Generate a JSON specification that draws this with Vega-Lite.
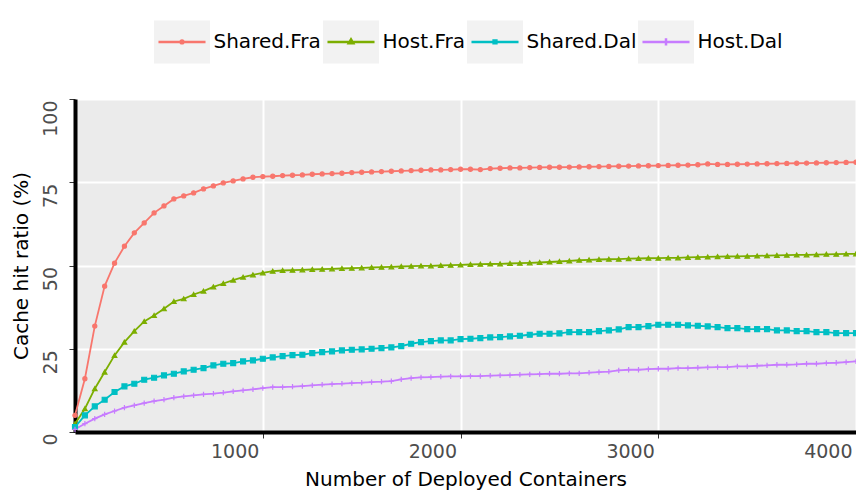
{
  "$schema": "https://vega.github.io/schema/vega-lite/v6.json",
  "width": 781,
  "height": 333,
  "autosize": {"type": "none"},
  "padding": {"left": 75, "top": 99, "right": 0, "bottom": 61},
  "config": {
    "font": "DejaVu Sans",
    "view": {"fill": "#ebebeb", "stroke": null},
    "axis": {
      "domainColor": "black",
      "domainWidth": 4,
      "tickColor": "#333333",
      "tickWidth": 1,
      "tickSize": 6,
      "labelColor": "#4d4d4d",
      "labelFontSize": 19,
      "titleFontSize": 20,
      "titleFontWeight": "normal",
      "titleColor": "black",
      "gridColor": "white",
      "gridWidth": 2
    }
  },
  "data": {"values": [
{"containers":50,"series":"Shared.Fra","ratio":5},{"containers":100,"series":"Shared.Fra","ratio":16},{"containers":150,"series":"Shared.Fra","ratio":31.8},{"containers":200,"series":"Shared.Fra","ratio":43.8},{"containers":250,"series":"Shared.Fra","ratio":50.7},{"containers":300,"series":"Shared.Fra","ratio":55.8},{"containers":350,"series":"Shared.Fra","ratio":59.8},{"containers":400,"series":"Shared.Fra","ratio":62.8},{"containers":450,"series":"Shared.Fra","ratio":65.8},{"containers":500,"series":"Shared.Fra","ratio":67.9},
{"containers":550,"series":"Shared.Fra","ratio":70},{"containers":600,"series":"Shared.Fra","ratio":70.9},{"containers":650,"series":"Shared.Fra","ratio":71.8},{"containers":700,"series":"Shared.Fra","ratio":73},{"containers":750,"series":"Shared.Fra","ratio":73.9},{"containers":800,"series":"Shared.Fra","ratio":74.8},{"containers":850,"series":"Shared.Fra","ratio":75.4},{"containers":900,"series":"Shared.Fra","ratio":76},{"containers":950,"series":"Shared.Fra","ratio":76.5},{"containers":1000,"series":"Shared.Fra","ratio":76.7},
{"containers":1050,"series":"Shared.Fra","ratio":76.8},{"containers":1100,"series":"Shared.Fra","ratio":77},{"containers":1150,"series":"Shared.Fra","ratio":77.1},{"containers":1200,"series":"Shared.Fra","ratio":77.2},{"containers":1250,"series":"Shared.Fra","ratio":77.4},{"containers":1300,"series":"Shared.Fra","ratio":77.5},{"containers":1350,"series":"Shared.Fra","ratio":77.6},{"containers":1400,"series":"Shared.Fra","ratio":77.7},{"containers":1450,"series":"Shared.Fra","ratio":77.9},{"containers":1500,"series":"Shared.Fra","ratio":78},
{"containers":1550,"series":"Shared.Fra","ratio":78.1},{"containers":1600,"series":"Shared.Fra","ratio":78.2},{"containers":1650,"series":"Shared.Fra","ratio":78.3},{"containers":1700,"series":"Shared.Fra","ratio":78.4},{"containers":1750,"series":"Shared.Fra","ratio":78.5},{"containers":1800,"series":"Shared.Fra","ratio":78.6},{"containers":1850,"series":"Shared.Fra","ratio":78.7},{"containers":1900,"series":"Shared.Fra","ratio":78.7},{"containers":1950,"series":"Shared.Fra","ratio":78.8},{"containers":2000,"series":"Shared.Fra","ratio":78.9},
{"containers":2050,"series":"Shared.Fra","ratio":78.9},{"containers":2100,"series":"Shared.Fra","ratio":78.8},{"containers":2150,"series":"Shared.Fra","ratio":79.1},{"containers":2200,"series":"Shared.Fra","ratio":79.2},{"containers":2250,"series":"Shared.Fra","ratio":79.3},{"containers":2300,"series":"Shared.Fra","ratio":79.3},{"containers":2350,"series":"Shared.Fra","ratio":79.4},{"containers":2400,"series":"Shared.Fra","ratio":79.45},{"containers":2450,"series":"Shared.Fra","ratio":79.5},{"containers":2500,"series":"Shared.Fra","ratio":79.5},
{"containers":2550,"series":"Shared.Fra","ratio":79.55},{"containers":2600,"series":"Shared.Fra","ratio":79.6},{"containers":2650,"series":"Shared.Fra","ratio":79.65},{"containers":2700,"series":"Shared.Fra","ratio":79.7},{"containers":2750,"series":"Shared.Fra","ratio":79.75},{"containers":2800,"series":"Shared.Fra","ratio":79.8},{"containers":2850,"series":"Shared.Fra","ratio":79.85},{"containers":2900,"series":"Shared.Fra","ratio":79.9},{"containers":2950,"series":"Shared.Fra","ratio":79.95},{"containers":3000,"series":"Shared.Fra","ratio":80},
{"containers":3050,"series":"Shared.Fra","ratio":80.05},{"containers":3100,"series":"Shared.Fra","ratio":80.1},{"containers":3150,"series":"Shared.Fra","ratio":80.15},{"containers":3200,"series":"Shared.Fra","ratio":80.25},{"containers":3250,"series":"Shared.Fra","ratio":80.5},{"containers":3300,"series":"Shared.Fra","ratio":80.35},{"containers":3350,"series":"Shared.Fra","ratio":80.35},{"containers":3400,"series":"Shared.Fra","ratio":80.4},{"containers":3450,"series":"Shared.Fra","ratio":80.45},{"containers":3500,"series":"Shared.Fra","ratio":80.5},
{"containers":3550,"series":"Shared.Fra","ratio":80.55},{"containers":3600,"series":"Shared.Fra","ratio":80.6},{"containers":3650,"series":"Shared.Fra","ratio":80.65},{"containers":3700,"series":"Shared.Fra","ratio":80.7},{"containers":3750,"series":"Shared.Fra","ratio":80.75},{"containers":3800,"series":"Shared.Fra","ratio":80.8},{"containers":3850,"series":"Shared.Fra","ratio":80.85},{"containers":3900,"series":"Shared.Fra","ratio":80.9},{"containers":3950,"series":"Shared.Fra","ratio":80.95},{"containers":4000,"series":"Shared.Fra","ratio":81},
{"containers":50,"series":"Host.Fra","ratio":2.5},{"containers":100,"series":"Host.Fra","ratio":7},{"containers":150,"series":"Host.Fra","ratio":13},{"containers":200,"series":"Host.Fra","ratio":18},{"containers":250,"series":"Host.Fra","ratio":23},{"containers":300,"series":"Host.Fra","ratio":27},{"containers":350,"series":"Host.Fra","ratio":30.3},{"containers":400,"series":"Host.Fra","ratio":33.2},{"containers":450,"series":"Host.Fra","ratio":35},{"containers":500,"series":"Host.Fra","ratio":37},
{"containers":550,"series":"Host.Fra","ratio":39.2},{"containers":600,"series":"Host.Fra","ratio":40},{"containers":650,"series":"Host.Fra","ratio":41.3},{"containers":700,"series":"Host.Fra","ratio":42.3},{"containers":750,"series":"Host.Fra","ratio":43.6},{"containers":800,"series":"Host.Fra","ratio":44.6},{"containers":850,"series":"Host.Fra","ratio":45.6},{"containers":900,"series":"Host.Fra","ratio":46.5},{"containers":950,"series":"Host.Fra","ratio":47.2},{"containers":1000,"series":"Host.Fra","ratio":47.8},
{"containers":1050,"series":"Host.Fra","ratio":48.3},{"containers":1100,"series":"Host.Fra","ratio":48.5},{"containers":1150,"series":"Host.Fra","ratio":48.6},{"containers":1200,"series":"Host.Fra","ratio":48.7},{"containers":1250,"series":"Host.Fra","ratio":48.8},{"containers":1300,"series":"Host.Fra","ratio":48.9},{"containers":1350,"series":"Host.Fra","ratio":49},{"containers":1400,"series":"Host.Fra","ratio":49.1},{"containers":1450,"series":"Host.Fra","ratio":49.2},{"containers":1500,"series":"Host.Fra","ratio":49.3},
{"containers":1550,"series":"Host.Fra","ratio":49.4},{"containers":1600,"series":"Host.Fra","ratio":49.5},{"containers":1650,"series":"Host.Fra","ratio":49.6},{"containers":1700,"series":"Host.Fra","ratio":49.7},{"containers":1750,"series":"Host.Fra","ratio":49.8},{"containers":1800,"series":"Host.Fra","ratio":49.9},{"containers":1850,"series":"Host.Fra","ratio":49.9},{"containers":1900,"series":"Host.Fra","ratio":50},{"containers":1950,"series":"Host.Fra","ratio":50.1},{"containers":2000,"series":"Host.Fra","ratio":50.2},
{"containers":2050,"series":"Host.Fra","ratio":50.3},{"containers":2100,"series":"Host.Fra","ratio":50.4},{"containers":2150,"series":"Host.Fra","ratio":50.45},{"containers":2200,"series":"Host.Fra","ratio":50.5},{"containers":2250,"series":"Host.Fra","ratio":50.6},{"containers":2300,"series":"Host.Fra","ratio":50.7},{"containers":2350,"series":"Host.Fra","ratio":50.8},{"containers":2400,"series":"Host.Fra","ratio":50.9},{"containers":2450,"series":"Host.Fra","ratio":51.05},{"containers":2500,"series":"Host.Fra","ratio":51.2},
{"containers":2550,"series":"Host.Fra","ratio":51.37},{"containers":2600,"series":"Host.Fra","ratio":51.57},{"containers":2650,"series":"Host.Fra","ratio":51.7},{"containers":2700,"series":"Host.Fra","ratio":51.8},{"containers":2750,"series":"Host.Fra","ratio":51.87},{"containers":2800,"series":"Host.Fra","ratio":51.9},{"containers":2850,"series":"Host.Fra","ratio":52.05},{"containers":2900,"series":"Host.Fra","ratio":52.1},{"containers":2950,"series":"Host.Fra","ratio":52.17},{"containers":3000,"series":"Host.Fra","ratio":52.2},
{"containers":3050,"series":"Host.Fra","ratio":52.27},{"containers":3100,"series":"Host.Fra","ratio":52.3},{"containers":3150,"series":"Host.Fra","ratio":52.45},{"containers":3200,"series":"Host.Fra","ratio":52.5},{"containers":3250,"series":"Host.Fra","ratio":52.57},{"containers":3300,"series":"Host.Fra","ratio":52.67},{"containers":3350,"series":"Host.Fra","ratio":52.7},{"containers":3400,"series":"Host.Fra","ratio":52.77},{"containers":3450,"series":"Host.Fra","ratio":52.8},{"containers":3500,"series":"Host.Fra","ratio":52.87},
{"containers":3550,"series":"Host.Fra","ratio":52.97},{"containers":3600,"series":"Host.Fra","ratio":53.05},{"containers":3650,"series":"Host.Fra","ratio":53.1},{"containers":3700,"series":"Host.Fra","ratio":53.17},{"containers":3750,"series":"Host.Fra","ratio":53.2},{"containers":3800,"series":"Host.Fra","ratio":53.27},{"containers":3850,"series":"Host.Fra","ratio":53.37},{"containers":3900,"series":"Host.Fra","ratio":53.4},{"containers":3950,"series":"Host.Fra","ratio":53.47},{"containers":4000,"series":"Host.Fra","ratio":53.5},
{"containers":50,"series":"Shared.Dal","ratio":1.5},{"containers":100,"series":"Shared.Dal","ratio":5},{"containers":150,"series":"Shared.Dal","ratio":7.7},{"containers":200,"series":"Shared.Dal","ratio":9.7},{"containers":250,"series":"Shared.Dal","ratio":12},{"containers":300,"series":"Shared.Dal","ratio":13.7},{"containers":350,"series":"Shared.Dal","ratio":14.5},{"containers":400,"series":"Shared.Dal","ratio":15.7},{"containers":450,"series":"Shared.Dal","ratio":16.3},{"containers":500,"series":"Shared.Dal","ratio":17},
{"containers":550,"series":"Shared.Dal","ratio":17.5},{"containers":600,"series":"Shared.Dal","ratio":18.2},{"containers":650,"series":"Shared.Dal","ratio":18.7},{"containers":700,"series":"Shared.Dal","ratio":19.2},{"containers":750,"series":"Shared.Dal","ratio":20},{"containers":800,"series":"Shared.Dal","ratio":20.5},{"containers":850,"series":"Shared.Dal","ratio":20.7},{"containers":900,"series":"Shared.Dal","ratio":21.2},{"containers":950,"series":"Shared.Dal","ratio":21.5},{"containers":1000,"series":"Shared.Dal","ratio":22},
{"containers":1050,"series":"Shared.Dal","ratio":22.4},{"containers":1100,"series":"Shared.Dal","ratio":22.8},{"containers":1150,"series":"Shared.Dal","ratio":23.1},{"containers":1200,"series":"Shared.Dal","ratio":23.2},{"containers":1250,"series":"Shared.Dal","ratio":23.7},{"containers":1300,"series":"Shared.Dal","ratio":24},{"containers":1350,"series":"Shared.Dal","ratio":24.2},{"containers":1400,"series":"Shared.Dal","ratio":24.5},{"containers":1450,"series":"Shared.Dal","ratio":24.7},{"containers":1500,"series":"Shared.Dal","ratio":24.8},
{"containers":1550,"series":"Shared.Dal","ratio":25},{"containers":1600,"series":"Shared.Dal","ratio":25.2},{"containers":1650,"series":"Shared.Dal","ratio":25.4},{"containers":1700,"series":"Shared.Dal","ratio":25.8},{"containers":1750,"series":"Shared.Dal","ratio":26.5},{"containers":1800,"series":"Shared.Dal","ratio":27},{"containers":1850,"series":"Shared.Dal","ratio":27.3},{"containers":1900,"series":"Shared.Dal","ratio":27.5},{"containers":1950,"series":"Shared.Dal","ratio":27.5},{"containers":2000,"series":"Shared.Dal","ratio":27.9},
{"containers":2050,"series":"Shared.Dal","ratio":28},{"containers":2100,"series":"Shared.Dal","ratio":28.2},{"containers":2150,"series":"Shared.Dal","ratio":28.4},{"containers":2200,"series":"Shared.Dal","ratio":28.5},{"containers":2250,"series":"Shared.Dal","ratio":28.7},{"containers":2300,"series":"Shared.Dal","ratio":28.9},{"containers":2350,"series":"Shared.Dal","ratio":29.2},{"containers":2400,"series":"Shared.Dal","ratio":29.5},{"containers":2450,"series":"Shared.Dal","ratio":29.5},{"containers":2500,"series":"Shared.Dal","ratio":29.6},
{"containers":2550,"series":"Shared.Dal","ratio":30},{"containers":2600,"series":"Shared.Dal","ratio":30},{"containers":2650,"series":"Shared.Dal","ratio":30},{"containers":2700,"series":"Shared.Dal","ratio":30.3},{"containers":2750,"series":"Shared.Dal","ratio":30.5},{"containers":2800,"series":"Shared.Dal","ratio":30.8},{"containers":2850,"series":"Shared.Dal","ratio":31.5},{"containers":2900,"series":"Shared.Dal","ratio":31.5},{"containers":2950,"series":"Shared.Dal","ratio":31.8},{"containers":3000,"series":"Shared.Dal","ratio":32.2},
{"containers":3050,"series":"Shared.Dal","ratio":32.2},{"containers":3100,"series":"Shared.Dal","ratio":32.2},{"containers":3150,"series":"Shared.Dal","ratio":32},{"containers":3200,"series":"Shared.Dal","ratio":31.9},{"containers":3250,"series":"Shared.Dal","ratio":31.7},{"containers":3300,"series":"Shared.Dal","ratio":31.5},{"containers":3350,"series":"Shared.Dal","ratio":31.2},{"containers":3400,"series":"Shared.Dal","ratio":31.2},{"containers":3450,"series":"Shared.Dal","ratio":30.9},{"containers":3500,"series":"Shared.Dal","ratio":30.9},
{"containers":3550,"series":"Shared.Dal","ratio":30.9},{"containers":3600,"series":"Shared.Dal","ratio":30.5},{"containers":3650,"series":"Shared.Dal","ratio":30.5},{"containers":3700,"series":"Shared.Dal","ratio":30.3},{"containers":3750,"series":"Shared.Dal","ratio":30.3},{"containers":3800,"series":"Shared.Dal","ratio":30},{"containers":3850,"series":"Shared.Dal","ratio":30},{"containers":3900,"series":"Shared.Dal","ratio":29.7},{"containers":3950,"series":"Shared.Dal","ratio":29.7},{"containers":4000,"series":"Shared.Dal","ratio":29.7},
{"containers":50,"series":"Host.Dal","ratio":0.8},{"containers":100,"series":"Host.Dal","ratio":2.5},{"containers":150,"series":"Host.Dal","ratio":4},{"containers":200,"series":"Host.Dal","ratio":5.3},{"containers":250,"series":"Host.Dal","ratio":6.3},{"containers":300,"series":"Host.Dal","ratio":7.3},{"containers":350,"series":"Host.Dal","ratio":8},{"containers":400,"series":"Host.Dal","ratio":8.7},{"containers":450,"series":"Host.Dal","ratio":9.3},{"containers":500,"series":"Host.Dal","ratio":9.7},
{"containers":550,"series":"Host.Dal","ratio":10.3},{"containers":600,"series":"Host.Dal","ratio":10.7},{"containers":650,"series":"Host.Dal","ratio":11},{"containers":700,"series":"Host.Dal","ratio":11.3},{"containers":750,"series":"Host.Dal","ratio":11.5},{"containers":800,"series":"Host.Dal","ratio":11.8},{"containers":850,"series":"Host.Dal","ratio":12.2},{"containers":900,"series":"Host.Dal","ratio":12.5},{"containers":950,"series":"Host.Dal","ratio":12.8},{"containers":1000,"series":"Host.Dal","ratio":13.2},
{"containers":1050,"series":"Host.Dal","ratio":13.5},{"containers":1100,"series":"Host.Dal","ratio":13.5},{"containers":1150,"series":"Host.Dal","ratio":13.6},{"containers":1200,"series":"Host.Dal","ratio":13.8},{"containers":1250,"series":"Host.Dal","ratio":14},{"containers":1300,"series":"Host.Dal","ratio":14.2},{"containers":1350,"series":"Host.Dal","ratio":14.4},{"containers":1400,"series":"Host.Dal","ratio":14.5},{"containers":1450,"series":"Host.Dal","ratio":14.7},{"containers":1500,"series":"Host.Dal","ratio":14.8},
{"containers":1550,"series":"Host.Dal","ratio":15},{"containers":1600,"series":"Host.Dal","ratio":15.1},{"containers":1650,"series":"Host.Dal","ratio":15.3},{"containers":1700,"series":"Host.Dal","ratio":15.8},{"containers":1750,"series":"Host.Dal","ratio":16.2},{"containers":1800,"series":"Host.Dal","ratio":16.4},{"containers":1850,"series":"Host.Dal","ratio":16.5},{"containers":1900,"series":"Host.Dal","ratio":16.6},{"containers":1950,"series":"Host.Dal","ratio":16.7},{"containers":2000,"series":"Host.Dal","ratio":16.7},
{"containers":2050,"series":"Host.Dal","ratio":16.8},{"containers":2100,"series":"Host.Dal","ratio":16.8},{"containers":2150,"series":"Host.Dal","ratio":16.9},{"containers":2200,"series":"Host.Dal","ratio":17},{"containers":2250,"series":"Host.Dal","ratio":17.1},{"containers":2300,"series":"Host.Dal","ratio":17.2},{"containers":2350,"series":"Host.Dal","ratio":17.3},{"containers":2400,"series":"Host.Dal","ratio":17.4},{"containers":2450,"series":"Host.Dal","ratio":17.5},{"containers":2500,"series":"Host.Dal","ratio":17.5},
{"containers":2550,"series":"Host.Dal","ratio":17.6},{"containers":2600,"series":"Host.Dal","ratio":17.6},{"containers":2650,"series":"Host.Dal","ratio":17.8},{"containers":2700,"series":"Host.Dal","ratio":18},{"containers":2750,"series":"Host.Dal","ratio":18.1},{"containers":2800,"series":"Host.Dal","ratio":18.5},{"containers":2850,"series":"Host.Dal","ratio":18.7},{"containers":2900,"series":"Host.Dal","ratio":18.7},{"containers":2950,"series":"Host.Dal","ratio":18.9},{"containers":3000,"series":"Host.Dal","ratio":19},
{"containers":3050,"series":"Host.Dal","ratio":19},{"containers":3100,"series":"Host.Dal","ratio":19.2},{"containers":3150,"series":"Host.Dal","ratio":19.2},{"containers":3200,"series":"Host.Dal","ratio":19.3},{"containers":3250,"series":"Host.Dal","ratio":19.4},{"containers":3300,"series":"Host.Dal","ratio":19.5},{"containers":3350,"series":"Host.Dal","ratio":19.5},{"containers":3400,"series":"Host.Dal","ratio":19.7},{"containers":3450,"series":"Host.Dal","ratio":19.7},{"containers":3500,"series":"Host.Dal","ratio":19.9},
{"containers":3550,"series":"Host.Dal","ratio":20},{"containers":3600,"series":"Host.Dal","ratio":20.2},{"containers":3650,"series":"Host.Dal","ratio":20.2},{"containers":3700,"series":"Host.Dal","ratio":20.3},{"containers":3750,"series":"Host.Dal","ratio":20.5},{"containers":3800,"series":"Host.Dal","ratio":20.5},{"containers":3850,"series":"Host.Dal","ratio":20.7},{"containers":3900,"series":"Host.Dal","ratio":20.8},{"containers":3950,"series":"Host.Dal","ratio":21},{"containers":4000,"series":"Host.Dal","ratio":21.2}
  ]},
  "encoding": {
    "x": {
      "field": "containers", "type": "quantitative",
      "scale": {"domain": [50, 4000], "nice": false, "zero": false},
      "axis": {
        "title": "Number of Deployed Containers",
        "values": [1000, 2000, 3000, 4000],
        "format": "d",
        "labelAlign": "right",
        "labelBaseline": "top",
        "labelPadding": 4,
        "labelOffset": -4,
        "titlePadding": 8
      }
    },
    "y": {
      "field": "ratio", "type": "quantitative",
      "scale": {"domain": [0, 100], "nice": false},
      "axis": {
        "title": "Cache hit ratio (%)",
        "values": [0, 25, 50, 75, 100],
        "labelAngle": -90,
        "labelAlign": "right",
        "labelBaseline": "alphabetic",
        "labelPadding": 13,
        "labelOffset": 1,
        "titlePadding": 10
      }
    }
  },
  "layer": [
    {
      "mark": {"type": "point", "filled": true, "opacity": 0},
      "encoding": {
        "color": {
          "field": "series", "type": "nominal",
          "scale": {"domain": ["Shared.Fra", "Host.Fra", "Shared.Dal", "Host.Dal"], "range": ["#f2f2f2", "#f2f2f2", "#f2f2f2", "#f2f2f2"]},
          "legend": {
            "orient": "none", "legendX": 77.5, "legendY": -87, "direction": "horizontal", "columns": 4,
            "title": null, "padding": 0, "columnPadding": -7, "rowPadding": 0,
            "symbolSize": 3136, "symbolStrokeWidth": 2.5, "symbolOffset": 0,
            "symbolType": "M-1,-0.77H1V0.77H-1Z",
            "symbolOpacity": 1, "symbolStrokeColor": "transparent",
            "labelFontSize": 20, "labelColor": "black", "labelOffset": 2, "labelLimit": 300,
            "labelOpacity": 0
          }
        }
      }
    },
    {
      "mark": {"type": "line", "strokeWidth": 1.8},
      "encoding": {
        "color": {
          "field": "series", "type": "nominal",
          "scale": {"domain": ["Shared.Fra", "Host.Fra", "Shared.Dal", "Host.Dal"], "range": ["#F8766D", "#7CAE00", "#00BFC4", "#C77CFF"]},
          "legend": {
            "orient": "none", "legendX": 77.5, "legendY": -87, "direction": "horizontal", "columns": 4,
            "title": null, "padding": 0, "columnPadding": -7, "rowPadding": 0,
            "symbolSize": 3136, "symbolStrokeWidth": 2.5, "symbolOffset": 0,
            "labelFontSize": 20, "labelColor": "black", "labelOffset": 2, "labelLimit": 300,
            "encode": {
              "symbols": {"update": {
                "shape": {"signal": "datum.value === 'Shared.Fra' ? 'M-1,-0.77M1,0.77M-0.84,0H0.84M-0.05,0A0.05,0.05 0 1,0 0.05,0A0.05,0.05 0 1,0 -0.05,0Z' : datum.value === 'Host.Fra' ? 'M-1,-0.77M1,0.77M-0.84,0H0.84M0,-0.09L0.08,0.05L-0.08,0.05Z' : datum.value === 'Shared.Dal' ? 'M-1,-0.77M1,0.77M-0.84,0H0.84M-0.05,-0.05H0.05V0.05H-0.05Z' : 'M-1,-0.77M1,0.77M-0.84,0H0.84M0,-0.13V0.13'"},
                "fill": {"signal": "datum.value === 'Shared.Fra' ? '#F8766D' : datum.value === 'Host.Fra' ? '#7CAE00' : datum.value === 'Shared.Dal' ? '#00BFC4' : '#C77CFF'"},
                "stroke": {"signal": "datum.value === 'Shared.Fra' ? '#F8766D' : datum.value === 'Host.Fra' ? '#7CAE00' : datum.value === 'Shared.Dal' ? '#00BFC4' : '#C77CFF'"},
                "fillOpacity": {"value": 1},
                "strokeWidth": {"value": 2.5},
                "opacity": {"value": 1}
              }}
            }
          }
        }
      }
    },
    {
      "mark": {"type": "point", "filled": true, "opacity": 1, "strokeWidth": 1.2},
      "encoding": {
        "color": {
          "field": "series", "type": "nominal",
          "scale": {"domain": ["Shared.Fra", "Host.Fra", "Shared.Dal", "Host.Dal"], "range": ["#F8766D", "#7CAE00", "#00BFC4", "#C77CFF"]},
          "legend": null
        },
        "stroke": {
          "field": "series", "type": "nominal",
          "scale": {"domain": ["Shared.Fra", "Host.Fra", "Shared.Dal", "Host.Dal"], "range": ["#F8766D", "#7CAE00", "#00BFC4", "#C77CFF"]},
          "legend": null
        },
        "shape": {
          "field": "series", "type": "nominal",
          "scale": {"domain": ["Shared.Fra", "Host.Fra", "Shared.Dal", "Host.Dal"], "range": ["circle", "triangle-up", "square", "M-1,0H1M0,-1V1"]},
          "legend": null
        },
        "size": {
          "field": "series", "type": "ordinal",
          "scale": {"domain": ["Shared.Fra", "Host.Fra", "Shared.Dal", "Host.Dal"], "range": [17, 28, 18, 64]},
          "legend": null
        }
      }
    }
  ],
  "resolve": {"scale": {"color": "independent"}, "legend": {"color": "independent"}}
}
